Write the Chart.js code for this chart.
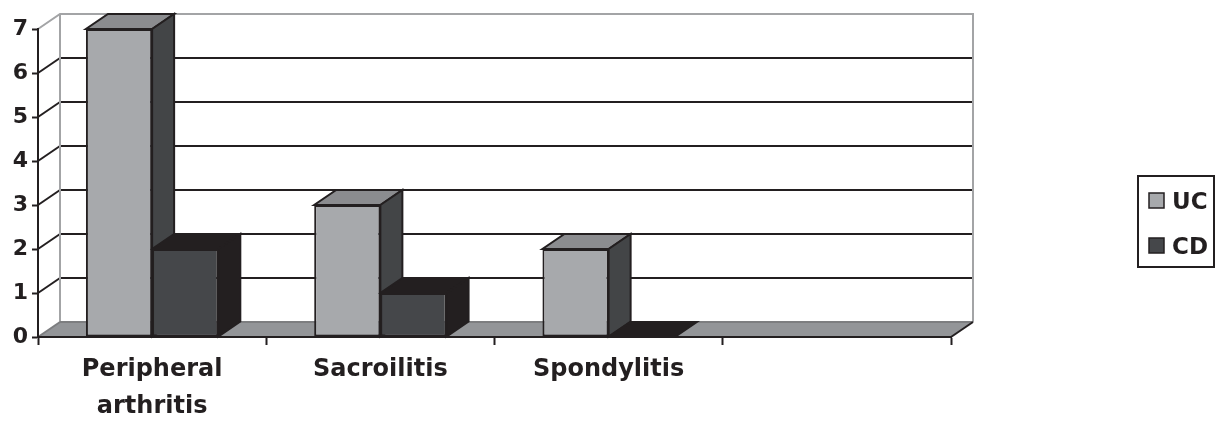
<!DOCTYPE html>
<html>
<head>
<meta charset="utf-8">
<title>Extraintestinal manifestations UC vs CD</title>
<script src="https://cdn.jsdelivr.net/npm/chart.js@4.4.1/dist/chart.umd.min.js"></script>
<style>
  html, body { margin: 0; padding: 0; background: #fff; }
  #wrap { width: 1220px; height: 421px; position: relative; }
</style>
</head>
<body>
<div id="wrap"><canvas id="chart"></canvas></div>
<script>
// data
const categories = [['Peripheral', 'arthritis'], 'Sacroilitis', 'Spondylitis', ''];
const ucValues = [7, 3, 2, null];
const cdValues = [2, 1, 0, null];
const yTicks = [0, 1, 2, 3, 4, 5, 6, 7];

// 3d depth offset (px) and colours
const DX = 22, DY = -15;
const FONT = "'DejaVu Sans', 'Liberation Sans', Arial, sans-serif";
const INK = '#231f20';
const WALL = '#a3a4a6';
const FLOOR = '#939598';
const shades = [
  { front: '#a7a9ac', top: '#8b8c8f', side: '#434547' }, // UC
  { front: '#45474a', top: '#231f20', side: '#231f20' }  // CD
];

function poly(ctx, pts, fill, stroke, lw) {
  ctx.beginPath();
  ctx.moveTo(pts[0][0], pts[0][1]);
  for (let i = 1; i < pts.length; i++) ctx.lineTo(pts[i][0], pts[i][1]);
  ctx.closePath();
  if (fill) { ctx.fillStyle = fill; ctx.fill(); }
  if (stroke) { ctx.strokeStyle = stroke; ctx.lineWidth = lw || 2; ctx.stroke(); }
}

function line(ctx, x1, y1, x2, y2, color, lw) {
  ctx.beginPath();
  ctx.moveTo(x1, y1);
  ctx.lineTo(x2, y2);
  ctx.strokeStyle = color;
  ctx.lineWidth = lw || 2;
  ctx.stroke();
}

// back wall, side wall, gridlines and floor
const wallPlugin = {
  id: 'wall3d',
  beforeDraw(chart) {
    const ctx = chart.ctx;
    const a = chart.chartArea;
    const ys = chart.scales.y;
    ctx.save();
    ctx.lineJoin = 'miter';
    // gridlines on back wall + diagonals on left wall
    yTicks.forEach(v => {
      if (v === 0 || v === ys.max) return;
      const yf = ys.getPixelForValue(v);
      line(ctx, a.left + DX, yf + DY, a.right + DX, yf + DY, INK, 2);
      line(ctx, a.left, yf, a.left + DX, yf + DY, INK, 2);
    });
    // wall outline
    ctx.beginPath();
    ctx.moveTo(a.left, a.top);
    ctx.lineTo(a.left + DX, a.top + DY);
    ctx.lineTo(a.right + DX, a.top + DY);
    ctx.lineTo(a.right + DX, a.bottom + DY);
    ctx.moveTo(a.left + DX, a.top + DY);
    ctx.lineTo(a.left + DX, a.bottom + DY);
    ctx.strokeStyle = WALL;
    ctx.lineWidth = 2;
    ctx.stroke();
    // floor
    poly(ctx, [[a.left, a.bottom], [a.right, a.bottom], [a.right + DX, a.bottom + DY], [a.left + DX, a.bottom + DY]], FLOOR);
    line(ctx, a.left + DX, a.bottom + DY, a.right + DX, a.bottom + DY, '#7d7e80', 2);
    line(ctx, a.left, a.bottom, a.left + DX, a.bottom + DY, '#7d7e80', 2);
    line(ctx, a.right, a.bottom, a.right + DX, a.bottom + DY, INK, 2);
    ctx.restore();
  },
  // top and side faces of every bar, fronts are drawn by chart.js
  beforeDatasetsDraw(chart) {
    const ctx = chart.ctx;
    ctx.save();
    ctx.lineJoin = 'miter';
    chart.data.datasets.forEach((ds, i) => {
      const meta = chart.getDatasetMeta(i);
      meta.data.forEach((bar, j) => {
        if (ds.data[j] == null) return;
        const p = bar.getProps(['x', 'y', 'base', 'width'], true);
        const l = p.x - p.width / 2, r = p.x + p.width / 2;
        poly(ctx, [[l, p.y], [r, p.y], [r + DX, p.y + DY], [l + DX, p.y + DY]], shades[i].top, INK, 2);
        if (p.base - p.y > 0.5) {
          poly(ctx, [[r, p.y], [r + DX, p.y + DY], [r + DX, p.base + DY], [r, p.base]], shades[i].side, INK, 2);
        }
      });
    });
    ctx.restore();
  },
  // boxed legend on the right
  afterDraw(chart) {
    const ctx = chart.ctx;
    ctx.save();
    ctx.strokeStyle = INK;
    ctx.lineWidth = 2;
    ctx.strokeRect(1138, 176, 76, 91);
    chart.data.datasets.forEach((ds, i) => {
      const sy = 193 + i * 45;
      ctx.fillStyle = ds.backgroundColor;
      ctx.fillRect(1149, sy, 15, 15);
      ctx.lineWidth = 1.5;
      ctx.strokeRect(1149, sy, 15, 15);
      ctx.fillStyle = INK;
      ctx.font = 'bold 23px ' + FONT;
      ctx.textBaseline = 'alphabetic';
      ctx.textAlign = 'left';
      ctx.fillText(ds.label, 1172, sy + 16);
    });
    ctx.restore();
  }
};

const ctx = document.getElementById('chart').getContext('2d');
const chart = new Chart(ctx, {
  type: 'bar',
  data: {
    labels: categories,
    datasets: [
      { label: 'UC', data: ucValues, backgroundColor: shades[0].front },
      { label: 'CD', data: cdValues, backgroundColor: shades[1].front }
    ]
  },
  options: {
    responsive: true,
    maintainAspectRatio: false,
    animation: false,
    devicePixelRatio: 1,
    layout: { padding: { top: 29, right: 269, left: 0, bottom: 0 } },
    datasets: {
      bar: {
        categoryPercentage: 0.58,
        barPercentage: 1.0,
        borderColor: INK,
        borderWidth: 2,
        borderSkipped: false
      }
    },
    plugins: {
      legend: { display: false },
      tooltip: { enabled: false }
    },
    scales: {
      x: {
        offset: true,
        grid: { offset: true, drawOnChartArea: false, drawTicks: true, tickLength: 8, tickWidth: 2, tickColor: INK },
        border: { display: true, color: INK, width: 2 },
        ticks: {
          color: INK,
          autoSkip: false,
          maxRotation: 0,
          padding: 6,
          font: { family: FONT, size: 24, weight: 'bold', lineHeight: 37 / 24 }
        },
        afterFit(scale) { scale.height = 84; }
      },
      y: {
        min: 0,
        max: 7,
        grid: { drawOnChartArea: false, drawTicks: true, tickLength: 6, tickWidth: 2, tickColor: INK },
        border: { display: true, color: INK, width: 2 },
        ticks: {
          color: INK,
          padding: 4,
          font: { family: FONT, size: 22, weight: 'bold' }
        },
        afterBuildTicks(scale) { scale.ticks = yTicks.map(v => ({ value: v })); },
        afterFit(scale) { scale.width = 38; }
      }
    }
  },
  plugins: [wallPlugin]
});
</script>
</body>
</html>
